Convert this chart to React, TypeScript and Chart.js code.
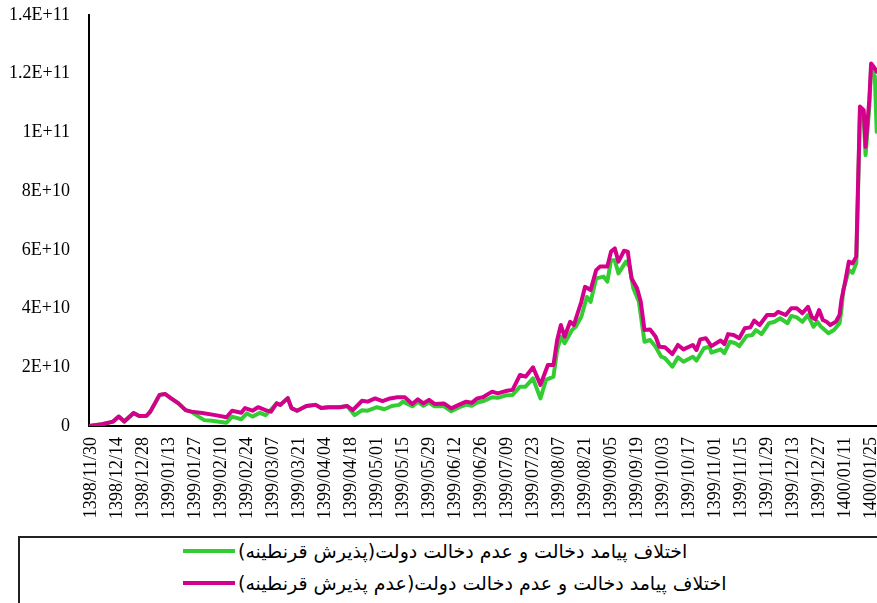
import React, { useEffect, useRef } from "react";
import { Chart, registerables } from "chart.js";

Chart.register(...registerables);

// x-axis tick labels (every 14 days, day index = 14 * position)
const tickLabels = [
  "1398/11/30", "1398/12/14", "1398/12/28", "1399/01/13", "1399/01/27",
  "1399/02/10", "1399/02/24", "1399/03/07", "1399/03/21", "1399/04/04",
  "1399/04/18", "1399/05/01", "1399/05/15", "1399/05/29", "1399/06/12",
  "1399/06/26", "1399/07/09", "1399/07/23", "1399/08/07", "1399/08/21",
  "1399/09/05", "1399/09/19", "1399/10/03", "1399/10/17", "1399/11/01",
  "1399/11/15", "1399/11/29", "1399/12/13", "1399/12/27", "1400/01/11",
  "1400/01/25",
];

const yTickLabels = ["0", "2E+10", "4E+10", "6E+10", "8E+10", "1E+11", "1.2E+11", "1.4E+11"];

const seriesNames = [
  "اختلاف پیامد دخالت و عدم دخالت دولت(پذیرش قرنطینه)",
  "اختلاف پیامد دخالت و عدم دخالت دولت(عدم پذیرش قرنطینه)",
];
const seriesColors = ["#33cc33", "#d4008c"];

// [day since 1398/11/30, value]
const greenSeries: [number, number][] = [
  [0, 0.1e9], [6, 0.6e9], [12, 1.5e9], [15, 3.2e9], [18, 1.5e9], [23, 4.4e9], [26, 3.4e9],
  [30, 3.5e9], [32, 4.9e9], [37, 10.6e9], [40, 10.9e9], [43, 9.5e9], [47, 7.8e9], [51, 5.4e9],
  [54, 4.9e9], [58, 3.2e9], [61, 2.0e9], [65, 1.8e9], [73, 1.1e9], [76, 3.2e9], [81, 2.3e9],
  [84, 4.3e9], [87, 3.2e9], [91, 4.5e9], [94, 3.7e9], [96, 4.9e9], [100, 7.7e9], [102, 7.2e9],
  [106, 9.5e9], [108, 6.1e9], [111, 5.2e9], [116, 6.8e9], [121, 7.2e9], [124, 6.1e9],
  [128, 6.4e9], [134, 6.4e9], [138, 6.8e9], [142, 3.7e9], [146, 5.4e9], [149, 5.2e9],
  [154, 6.4e9], [158, 5.7e9], [162, 6.8e9], [166, 7.2e9], [168, 8.3e9], [173, 6.7e9],
  [176, 8.2e9], [179, 6.9e9], [182, 8.0e9], [185, 6.7e9], [190, 6.8e9], [194, 5.0e9],
  [198, 6.3e9], [202, 7.3e9], [205, 6.9e9], [208, 8.0e9], [211, 8.4e9], [216, 9.8e9],
  [219, 9.6e9], [224, 10.5e9], [227, 10.6e9], [231, 13.4e9], [234, 13.4e9], [238, 16.2e9],
  [242, 9.4e9], [245, 15.7e9], [249, 16.8e9], [251, 25.9e9], [253, 30.4e9], [255, 28.2e9],
  [259, 32.7e9], [261, 33.8e9], [264, 37.2e9], [267, 44.0e9], [269, 42.3e9], [272, 50.3e9],
  [276, 50.9e9], [278, 49.2e9], [280, 56.5e9], [282, 56.5e9], [284, 52.0e9], [288, 56.0e9],
  [290, 54.3e9], [292, 46.9e9], [295, 42.3e9], [298, 28.7e9], [301, 29.3e9], [304, 27.0e9],
  [307, 23.6e9], [309, 23.1e9], [313, 20.2e9], [316, 23.4e9], [319, 21.9e9], [324, 23.6e9],
  [326, 22.3e9], [330, 26.5e9], [333, 27.0e9], [334, 25.0e9], [339, 26.1e9], [341, 24.8e9],
  [344, 28.7e9], [347, 28.2e9], [349, 27.2e9], [353, 30.7e9], [356, 31.0e9], [358, 32.7e9],
  [361, 31.3e9], [365, 35.0e9], [368, 35.5e9], [371, 36.7e9], [375, 35.0e9], [377, 37.5e9],
  [380, 37.0e9], [383, 35.5e9], [386, 37.8e9], [389, 33.8e9], [391, 35.5e9], [393, 33.8e9],
  [394, 33.3e9], [397, 31.6e9], [400, 32.7e9], [403, 35.0e9], [404, 39.5e9], [405, 46.3e9],
  [408, 53.1e9], [410, 52.2e9], [412, 55.4e9], [414, 107.6e9], [416, 105.3e9], [417, 92.3e9],
  [419, 108.8e9], [420, 121.8e9], [422, 119.0e9], [423, 100.2e9],
];

const magentaSeries: [number, number][] = [
  [0, 0.1e9], [6, 0.6e9], [12, 1.5e9], [15, 3.2e9], [18, 1.5e9], [23, 4.4e9], [26, 3.4e9],
  [30, 3.5e9], [32, 4.9e9], [37, 10.6e9], [40, 10.9e9], [43, 9.5e9], [47, 7.8e9], [51, 5.4e9],
  [54, 4.9e9], [60, 4.4e9], [67, 3.7e9], [73, 3.0e9], [76, 5.2e9], [81, 4.5e9], [83, 6.1e9],
  [87, 5.2e9], [90, 6.4e9], [94, 5.4e9], [97, 4.9e9], [100, 7.7e9], [102, 7.2e9], [106, 9.5e9],
  [108, 6.1e9], [111, 5.2e9], [116, 6.8e9], [121, 7.2e9], [124, 6.1e9], [128, 6.4e9],
  [134, 6.4e9], [138, 6.8e9], [141, 5.4e9], [146, 8.6e9], [149, 8.3e9], [153, 9.4e9],
  [157, 8.5e9], [161, 9.4e9], [165, 9.8e9], [169, 9.8e9], [173, 7.5e9], [176, 9.1e9],
  [179, 7.7e9], [182, 8.9e9], [185, 7.5e9], [190, 7.7e9], [194, 6.0e9], [198, 7.2e9],
  [202, 8.3e9], [205, 7.9e9], [208, 9.4e9], [211, 9.8e9], [216, 11.7e9], [219, 11.1e9],
  [224, 12.0e9], [227, 12.3e9], [231, 17.4e9], [234, 16.8e9], [238, 20.0e9], [242, 14.0e9],
  [245, 19.1e9], [246, 20.8e9], [249, 20.8e9], [251, 29.3e9], [253, 34.4e9], [255, 30.4e9],
  [258, 35.5e9], [260, 34.4e9], [262, 38.4e9], [264, 42.3e9], [266, 47.4e9], [269, 46.3e9],
  [272, 53.1e9], [274, 54.3e9], [278, 54.3e9], [280, 59.4e9], [282, 60.5e9], [284, 56.0e9],
  [287, 59.7e9], [289, 59.4e9], [291, 50.3e9], [294, 46.9e9], [296, 42.3e9], [298, 32.7e9],
  [301, 32.9e9], [304, 30.4e9], [306, 27.0e9], [309, 26.8e9], [313, 24.5e9], [316, 27.6e9],
  [319, 26.1e9], [324, 27.6e9], [326, 25.9e9], [328, 29.5e9], [331, 29.9e9], [334, 27.2e9],
  [339, 29.1e9], [341, 27.9e9], [343, 31.3e9], [346, 31.0e9], [349, 29.9e9], [352, 33.3e9],
  [355, 33.6e9], [357, 35.9e9], [360, 34.4e9], [364, 37.8e9], [368, 37.8e9], [370, 38.9e9],
  [374, 37.8e9], [377, 40.1e9], [380, 40.1e9], [383, 38.4e9], [386, 40.6e9], [388, 37.2e9],
  [390, 36.3e9], [392, 39.5e9], [394, 36.1e9], [396, 35.5e9], [398, 34.4e9], [401, 35.5e9],
  [403, 37.8e9], [404, 42.9e9], [406, 49.1e9], [408, 56.0e9], [410, 55.4e9], [412, 57.7e9],
  [414, 108.8e9], [416, 107.6e9], [417, 95.1e9], [419, 111.0e9], [420, 123.5e9],
  [422, 121.8e9], [423, 120.7e9],
];

const AXIS_FONT = { family: "'Liberation Serif', 'Times New Roman', serif", size: 18 };

export default function App() {
  const canvasRef = useRef<HTMLCanvasElement | null>(null);

  useEffect(() => {
    const canvas = canvasRef.current;
    if (!canvas) return;
    const toPts = (s: [number, number][]) => s.map(([x, y]) => ({ x, y }));
    const chart = new Chart(canvas, {
      type: "line",
      data: {
        datasets: [
          {
            label: seriesNames[1],
            data: toPts(magentaSeries),
            borderColor: seriesColors[1],
            backgroundColor: seriesColors[1],
            borderWidth: 4,
            pointRadius: 0,
            tension: 0,
            fill: false,
            borderJoinStyle: "round",
            borderCapStyle: "round",
            order: 0,
          },
          {
            label: seriesNames[0],
            data: toPts(greenSeries),
            borderColor: seriesColors[0],
            backgroundColor: seriesColors[0],
            borderWidth: 4,
            pointRadius: 0,
            tension: 0,
            fill: false,
            borderJoinStyle: "round",
            borderCapStyle: "round",
            order: 1,
          },
        ],
      },
      options: {
        responsive: false,
        animation: false,
        devicePixelRatio: 1,
        layout: { padding: { left: 8, top: 15, right: 4, bottom: 0 } },
        plugins: { legend: { display: false }, tooltip: { enabled: false } },
        scales: {
          x: {
            type: "linear",
            min: -1,
            max: 428,
            grid: { display: false, drawTicks: false },
            border: { display: true, color: "#000", width: 2 },
            afterBuildTicks: (scale: any) => {
              scale.ticks = tickLabels.map((_, i) => ({ value: i * 14 }));
            },
            afterFit: (scale: any) => {
              scale.height = 93;
              scale.paddingLeft = 0;
              scale.paddingRight = 0;
            },
            ticks: {
              autoSkip: false,
              minRotation: 90,
              maxRotation: 90,
              padding: 11,
              color: "#000",
              font: AXIS_FONT,
              callback: (_v: any, i: number) => tickLabels[i],
            },
          },
          y: {
            type: "linear",
            min: 0,
            max: 1.4e11,
            grid: { display: false, drawTicks: false },
            border: { display: true, color: "#000", width: 2 },
            afterFit: (scale: any) => {
              scale.width = 81;
              scale.paddingTop = 0;
              scale.paddingBottom = 0;
            },
            ticks: {
              stepSize: 2e10,
              padding: 19,
              color: "#000",
              font: AXIS_FONT,
              callback: (_v: any, i: number) => yTickLabels[i],
            },
          },
        },
      },
    });
    return () => chart.destroy();
  }, []);

  const legendRowTops = [536, 568];

  return (
    <div
      style={{
        position: "fixed",
        left: 0,
        top: 0,
        width: 877,
        height: 603,
        overflow: "hidden",
        background: "#fff",
      }}
    >
      <canvas
        ref={canvasRef}
        width={890}
        height={519}
        style={{ position: "absolute", left: 0, top: 0, width: 890, height: 519 }}
      />
      <div
        style={{
          position: "absolute",
          left: 18,
          top: 536,
          width: 900,
          height: 100,
          border: "2px solid #222",
          boxSizing: "border-box",
        }}
      />
      {seriesNames.map((name, i) => (
        <div
          key={name}
          style={{
            position: "absolute",
            left: 183,
            top: legendRowTops[i],
            height: 30,
            display: "flex",
            alignItems: "center",
            whiteSpace: "nowrap",
          }}
        >
          <div style={{ width: 52, height: 4, background: seriesColors[i], marginRight: 3 }} />
          <span
            dir="rtl"
            style={{
              fontFamily: "'DejaVu Sans', sans-serif",
              fontSize: 19,
              color: "#000",
              unicodeBidi: "isolate",
            }}
          >
            {name}
          </span>
        </div>
      ))}
    </div>
  );
}
